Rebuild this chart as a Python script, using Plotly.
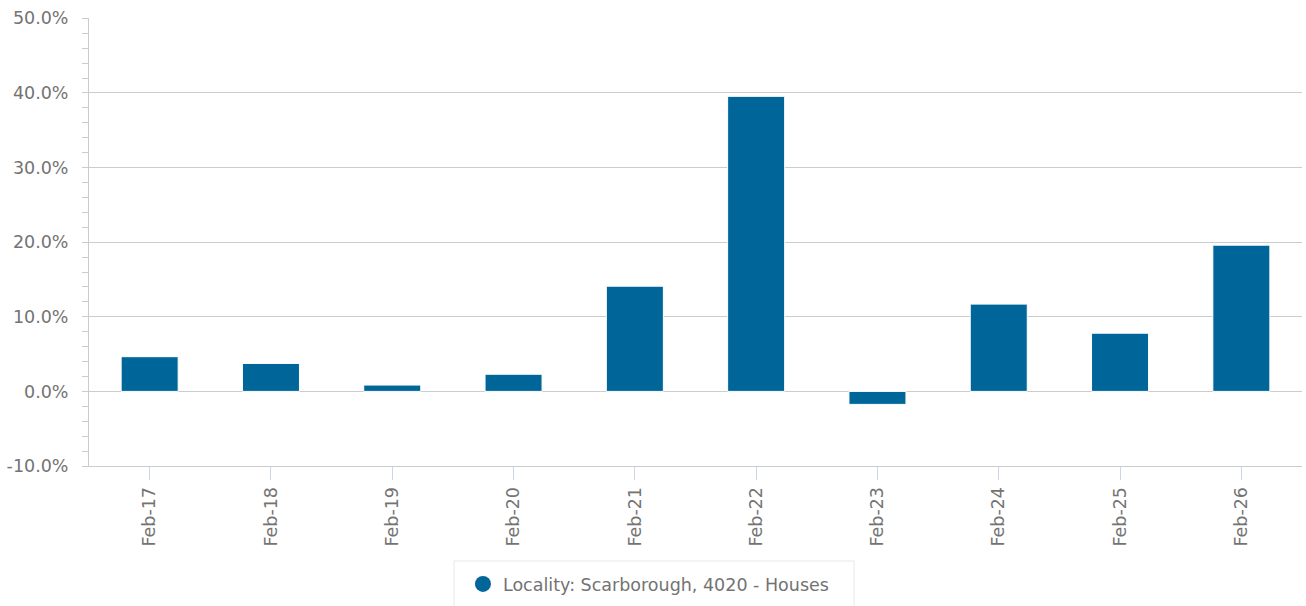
import plotly.graph_objects as go

categories = ["Feb-17", "Feb-18", "Feb-19", "Feb-20", "Feb-21",
              "Feb-22", "Feb-23", "Feb-24", "Feb-25", "Feb-26"]
growth = [0.0465, 0.0375, 0.0085, 0.023, 0.141,
          0.3955, -0.0174, 0.117, 0.078, 0.196]
y_tickvals = [-0.1, 0.0, 0.1, 0.2, 0.3, 0.4, 0.5]
y_ticktext = ["-10.0%", "0.0%", "10.0%", "20.0%", "30.0%", "40.0%", "50.0%"]
series_name = "Locality: Scarborough, 4020 - Houses"
bar_color = "#006699"
font_family = "DejaVu Sans"
text_color = "#737373"
fs = 17.5

fig = go.Figure()
fig.add_trace(go.Bar(
    x=categories, y=growth, width=0.47,
    marker=dict(color=bar_color, line=dict(color="#ffffff", width=1)),
    showlegend=False, hoverinfo="x+y",
))
fig.add_trace(go.Scatter(
    x=[None], y=[None], mode="markers", name=series_name,
    marker=dict(color=bar_color, size=16, symbol="circle"),
))

# legend frame
fig.add_shape(type="rect", xref="paper", yref="paper",
              x0=0.3009, x1=0.6307, y0=-0.212, y1=-0.33,
              line=dict(color="#e8e8e8", width=1), fillcolor="rgba(0,0,0,0)",
              layer="below")

fig.update_layout(
    width=1306, height=606,
    margin=dict(l=89, r=4, t=18, b=140),
    plot_bgcolor="white", paper_bgcolor="white",
    font=dict(family=font_family, size=fs, color=text_color),
    showlegend=True,
    legend=dict(
        orientation="h", x=0.3083, xanchor="left", y=-0.2634, yanchor="middle",
        borderwidth=0, bgcolor="rgba(0,0,0,0)",
        font=dict(family=font_family, size=fs, color=text_color),
    ),
)
fig.update_xaxes(
    type="category", range=[-0.5, 9.5], automargin=False,
    tickangle=-90, ticks="outside", ticklen=13, tickcolor="#ccd6eb",
    showline=True, linecolor="#cccccc", linewidth=1,
    showgrid=False,
    tickfont=dict(family=font_family, size=fs, color=text_color),
)
fig.update_yaxes(
    range=[-0.1, 0.5005], automargin=False,
    tickvals=y_tickvals, ticktext=y_ticktext,
    showgrid=True, gridcolor="#cccccc", gridwidth=1,
    zeroline=True, zerolinecolor="#cccccc", zerolinewidth=1,
    showline=True, linecolor="#cccccc", linewidth=1,
    ticks="outside", ticklen=6, tickcolor="#cccccc",
    minor=dict(dtick=0.02, ticks="outside", ticklen=6, tickcolor="#cccccc", showgrid=False),
    ticklabelstandoff=10,
    tickfont=dict(family=font_family, size=fs, color=text_color),
)

fig.write_html("out.html", config={"displayModeBar": False},
               post_script="document.body.style.margin='0px';document.body.style.overflow='hidden';")
